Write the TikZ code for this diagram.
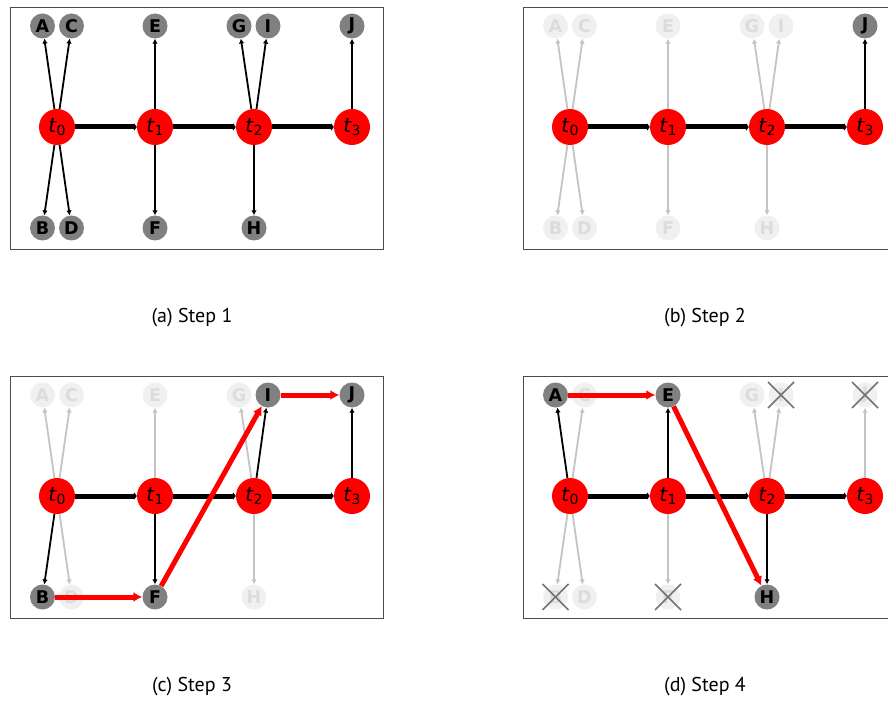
\documentclass[tikz,border=0pt]{standalone}
\usepackage{fontspec}
\setmainfont{PT Sans}
\newfontfamily\nodefont{DejaVu Sans}
\usetikzlibrary{arrows.meta}

\definecolor{nodegray}{HTML}{808080}
\definecolor{palefill}{HTML}{F0F0F0}
\definecolor{paletext}{HTML}{DCDCDC}
\definecolor{paleline}{HTML}{C4C4C4}

\tikzset{
  tnode/.style={circle, fill=red, minimum size=36pt, inner sep=0pt, font=\nodefont\fontsize{20}{20}\selectfont\itshape},
  leaf/.style={circle, fill=nodegray, minimum size=25pt, inner sep=0pt, font=\nodefont\bfseries\fontsize{17.5}{17.5}\selectfont},
  pale/.style={leaf, fill=palefill, text=paletext},
  chain/.style={line width=5pt, -{Latex[length=3pt,width=9pt,round]}},
  child/.style={line width=1.8pt, -{Latex[length=5pt,width=5.5pt]}},
  fadedchild/.style={child, draw=paleline, fill=paleline},
  route/.style={draw=red, line width=5pt, -{Latex[length=9pt,width=10pt]}},
  gone/.style={draw=black!55, line width=1.5pt},
  panelframe/.style={draw=black!70, line width=0.8pt},
  caption/.style={font=\normalfont\fontsize{20}{20}\selectfont}
}

\newcommand\tlab[1]{t\kern0.5pt\raisebox{-3.5pt}{\upshape\fontsize{14}{14}\selectfont #1}}
\newcommand\gonemark[1]{%
  \draw[gone] ([shift={(-13,-13)}]#1.center) -- ([shift={(13,13)}]#1.center);
  \draw[gone] ([shift={(-13,13)}]#1.center) -- ([shift={(13,-13)}]#1.center);}

\begin{document}
\begin{tikzpicture}[x=1pt, y=-1pt]
\useasboundingbox (0,0) rectangle (888,703);

% (a) step 1
\begin{scope}
\draw[panelframe] (10,7) rectangle (383,249);
\foreach \n/\x in {0/57,1/155,2/254,3/352}
  \node[tnode] (a-t\n) at (\x,127) {\tlab{\n}};
\foreach \n/\x/\y/\s in {A/42.5/26/leaf, C/71.5/26/leaf, E/155/26/leaf, G/239/26/leaf, I/268/26/leaf, J/352/26/leaf,
                         B/42.5/228/leaf, D/71.5/228/leaf, F/155/228/leaf, H/254/228/leaf}
  \node[\s] (a-\n) at (\x,\y) {\n};
\foreach \s/\t/\st in {t0/A/child, t0/C/child, t0/B/child, t0/D/child, t1/E/child, t1/F/child,
                       t2/G/child, t2/I/child, t2/H/child, t3/J/child}
  \draw[\st] (a-\s) -- (a-\t);
\draw[chain] (a-t0) -- (a-t1);
\draw[chain] (a-t1) -- (a-t2);
\draw[chain] (a-t2) -- (a-t3);
\node[caption] (cap-a) at (192,318) {(a) Step 1};
\end{scope}

% (b) step 2
\begin{scope}[shift={(513,0)}]
\draw[panelframe] (10,7) rectangle (383,249);
\foreach \n/\x in {0/57,1/155,2/254,3/352}
  \node[tnode] (b-t\n) at (\x,127) {\tlab{\n}};
\foreach \n/\x/\y/\s in {A/42.5/26/pale, C/71.5/26/pale, E/155/26/pale, G/239/26/pale, I/268/26/pale, J/352/26/leaf,
                         B/42.5/228/pale, D/71.5/228/pale, F/155/228/pale, H/254/228/pale}
  \node[\s] (b-\n) at (\x,\y) {\n};
\foreach \s/\t/\st in {t0/A/fadedchild, t0/C/fadedchild, t0/B/fadedchild, t0/D/fadedchild, t1/E/fadedchild, t1/F/fadedchild,
                       t2/G/fadedchild, t2/I/fadedchild, t2/H/fadedchild, t3/J/child}
  \draw[\st] (b-\s) -- (b-\t);
\draw[chain] (b-t0) -- (b-t1);
\draw[chain] (b-t1) -- (b-t2);
\draw[chain] (b-t2) -- (b-t3);
\node[caption] (cap-b) at (192,318) {(b) Step 2};
\end{scope}

% (c) step 3
\begin{scope}[shift={(0,369)}]
\draw[panelframe] (10,7) rectangle (383,249);
\foreach \n/\x in {0/57,1/155,2/254,3/352}
  \node[tnode] (c-t\n) at (\x,127) {\tlab{\n}};
\foreach \n/\x/\y/\s in {A/42.5/26/pale, C/71.5/26/pale, E/155/26/pale, G/239/26/pale, I/268/26/leaf, J/352/26/leaf,
                         B/42.5/228/leaf, D/71.5/228/pale, F/155/228/leaf, H/254/228/pale}
  \node[\s] (c-\n) at (\x,\y) {\n};
\foreach \s/\t/\st in {t0/A/fadedchild, t0/C/fadedchild, t0/D/fadedchild, t0/B/child, t1/E/fadedchild, t1/F/child,
                       t2/G/fadedchild, t2/H/fadedchild, t2/I/child, t3/J/child}
  \draw[\st] (c-\s) -- (c-\t);
\draw[chain] (c-t0) -- (c-t1);
\draw[chain] (c-t1) -- (c-t2);
\draw[chain] (c-t2) -- (c-t3);
\draw[route] (c-B) -- (c-F);
\draw[route] (c-F) -- (c-I);
\draw[route] (c-I) -- (c-J);
\node[caption] (cap-c) at (192,318) {(c) Step 3};
\end{scope}

% (d) step 4
\begin{scope}[shift={(513,369)}]
\draw[panelframe] (10,7) rectangle (383,249);
\foreach \n/\x in {0/57,1/155,2/254,3/352}
  \node[tnode] (d-t\n) at (\x,127) {\tlab{\n}};
\foreach \n/\x/\y/\s in {A/42.5/26/leaf, C/71.5/26/pale, E/155/26/leaf, G/239/26/pale, I/268/26/pale, J/352/26/pale,
                         B/42.5/228/pale, D/71.5/228/pale, F/155/228/pale, H/254/228/leaf}
  \node[\s] (d-\n) at (\x,\y) {\n};
\foreach \s/\t/\st in {t0/C/fadedchild, t0/B/fadedchild, t0/D/fadedchild, t0/A/child, t1/F/fadedchild, t1/E/child,
                       t2/G/fadedchild, t2/I/fadedchild, t2/H/child, t3/J/fadedchild}
  \draw[\st] (d-\s) -- (d-\t);
\draw[chain] (d-t0) -- (d-t1);
\draw[chain] (d-t1) -- (d-t2);
\draw[chain] (d-t2) -- (d-t3);
\draw[route] (d-A) -- (d-E);
\draw[route] (d-E) -- (d-H);
\foreach \n in {B,F,I,J}{
  \gonemark{d-\n}
}
\node[caption] (cap-d) at (192,318) {(d) Step 4};
\end{scope}

\end{tikzpicture}
\end{document}
